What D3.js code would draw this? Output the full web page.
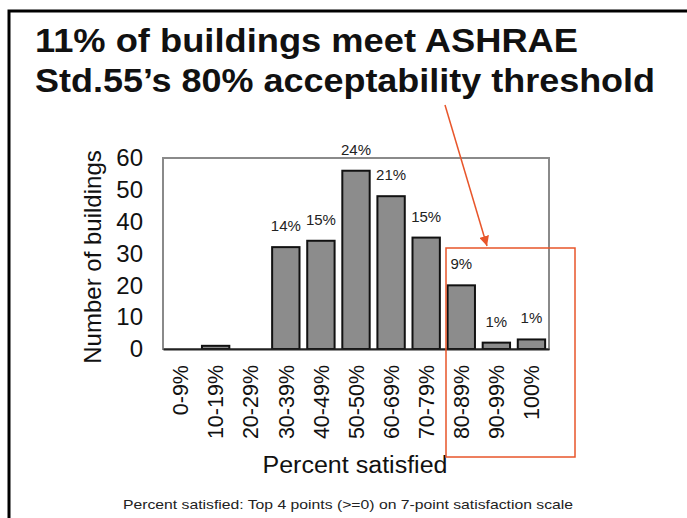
<!DOCTYPE html>
<html lang="en">
<head>
<meta charset="UTF-8">
<title>ASHRAE acceptability</title>
<script src="https://d3js.org/d3.v7.min.js"></script>
<style>
  body { margin: 0; background: #fff; }
  svg { display: block; font-family: "Liberation Sans", Arial, sans-serif; }
</style>
</head>
<body>
<div id="chart"></div>
<script>
// data
var categories = ['0-9%', '10-19%', '20-29%', '30-39%', '40-49%', '50-50%', '60-69%', '70-79%', '80-89%', '90-99%', '100%'];
var buildings = [0, 1, 0, 32, 34, 56, 48, 35, 20, 2, 3];
var barLabels = ['', '', '', '14%', '15%', '24%', '21%', '15%', '9%', '1%', '1%'];
var yTicks = [0, 10, 20, 30, 40, 50, 60];
var titleLines = ['11% of buildings meet ASHRAE', 'Std.55\u2019s 80% acceptability threshold'];

var W = 687, H = 518;
var margin = { top: 158, right: 138, bottom: 169, left: 163 };
var width = W - margin.left - margin.right,
    height = H - margin.top - margin.bottom;

var svg = d3.select('#chart').append('svg')
  .attr('width', W)
  .attr('height', H);

// page frame (top and left only)
svg.append('path')
  .attr('d', 'M9,' + H + ' L9,11 L' + W + ',11')
  .attr('fill', 'none')
  .attr('stroke', '#000')
  .attr('stroke-width', 3);

// title
svg.append('g').selectAll('text').data(titleLines)
  .enter().append('text')
  .attr('x', 35)
  .attr('y', function(d, i) { return 52 + i * 40; })
  .attr('font-size', 33)
  .attr('font-weight', 'bold')
  .attr('fill', '#111')
  .attr('textLength', function(d, i) { return i === 0 ? 543 : 620; })
  .attr('lengthAdjust', 'spacingAndGlyphs')
  .text(function(d) { return d; });

var x = d3.scaleBand()
  .domain(categories)
  .range([0, width])
  .paddingInner(0.22)
  .paddingOuter(0.11);

var y = d3.scaleLinear()
  .domain([0, 60])
  .range([height, 0]);

var g = svg.append('g')
  .attr('transform', 'translate(' + margin.left + ',' + margin.top + ')');

// plot frame
g.append('rect')
  .attr('width', width)
  .attr('height', height)
  .attr('fill', 'none')
  .attr('stroke', '#8a8a8a')
  .attr('stroke-width', 2);

g.selectAll('rect.bar').data(buildings)
  .enter().append('rect')
  .attr('class', 'bar')
  .attr('x', function(d, i) { return x(categories[i]); })
  .attr('width', x.bandwidth())
  .attr('y', function(d) { return y(d); })
  .attr('height', function(d) { return height - y(d); })
  .attr('fill', '#8c8c8c')
  .attr('stroke', '#111')
  .attr('stroke-width', 2);

g.selectAll('text.lbl').data(barLabels)
  .enter().append('text')
  .attr('class', 'lbl')
  .attr('x', function(d, i) { return x(categories[i]) + x.bandwidth() / 2; })
  .attr('y', function(d, i) { return y(buildings[i]) - 16; })
  .attr('text-anchor', 'middle')
  .attr('font-size', 15)
  .attr('fill', '#222')
  .text(function(d) { return d; });

// x axis
var xAxis = g.append('g')
  .attr('transform', 'translate(0,' + height + ')')
  .call(d3.axisBottom(x).tickSize(0).tickPadding(0));
xAxis.select('.domain').attr('stroke', '#222').attr('stroke-width', 2);
xAxis.selectAll('text')
  .attr('transform', 'rotate(-90)')
  .attr('text-anchor', 'end')
  .attr('x', -16)
  .attr('y', 0)
  .attr('dy', '0.36em')
  .attr('font-size', 21.5)
  .attr('font-family', '"Liberation Sans", Arial, sans-serif')
  .attr('fill', '#111');

// y axis
var yAxis = g.append('g')
  .call(d3.axisLeft(y).tickValues(yTicks).tickSize(0).tickPadding(20));
yAxis.select('.domain').remove();
yAxis.selectAll('text')
  .attr('font-size', 24)
  .attr('font-family', '"Liberation Sans", Arial, sans-serif')
  .attr('fill', '#111');

// axis titles
svg.append('text')
  .attr('transform', 'translate(101,257) rotate(-90)')
  .attr('text-anchor', 'middle')
  .attr('font-size', 24)
  .attr('fill', '#111')
  .text('Number of buildings');

svg.append('text')
  .attr('x', 355)
  .attr('y', 473)
  .attr('text-anchor', 'middle')
  .attr('font-size', 23)
  .attr('textLength', 185)
  .attr('lengthAdjust', 'spacingAndGlyphs')
  .attr('fill', '#111')
  .text('Percent satisfied');

svg.append('text')
  .attr('x', 348)
  .attr('y', 509)
  .attr('text-anchor', 'middle')
  .attr('font-size', 13)
  .attr('textLength', 450)
  .attr('lengthAdjust', 'spacingAndGlyphs')
  .attr('fill', '#222')
  .text('Percent satisfied: Top 4 points (>=0) on 7-point satisfaction scale');

// highlight box and arrow
var orange = '#e8552a';
svg.append('defs').append('marker')
  .attr('id', 'head')
  .attr('viewBox', '0 0 10 10')
  .attr('refX', 10).attr('refY', 5)
  .attr('markerWidth', 10).attr('markerHeight', 10)
  .attr('markerUnits', 'userSpaceOnUse')
  .attr('orient', 'auto')
  .append('path')
  .attr('d', 'M0,0 L10,5 L0,10 Z')
  .attr('fill', orange);

svg.append('line')
  .attr('x1', 445).attr('y1', 105)
  .attr('x2', 487).attr('y2', 246)
  .attr('stroke', orange)
  .attr('stroke-width', 1.5)
  .attr('marker-end', 'url(#head)');

svg.append('rect')
  .attr('x', 446).attr('y', 248)
  .attr('width', 129).attr('height', 209)
  .attr('fill', 'none')
  .attr('stroke', orange)
  .attr('stroke-width', 1.5);
</script>
</body>
</html>
